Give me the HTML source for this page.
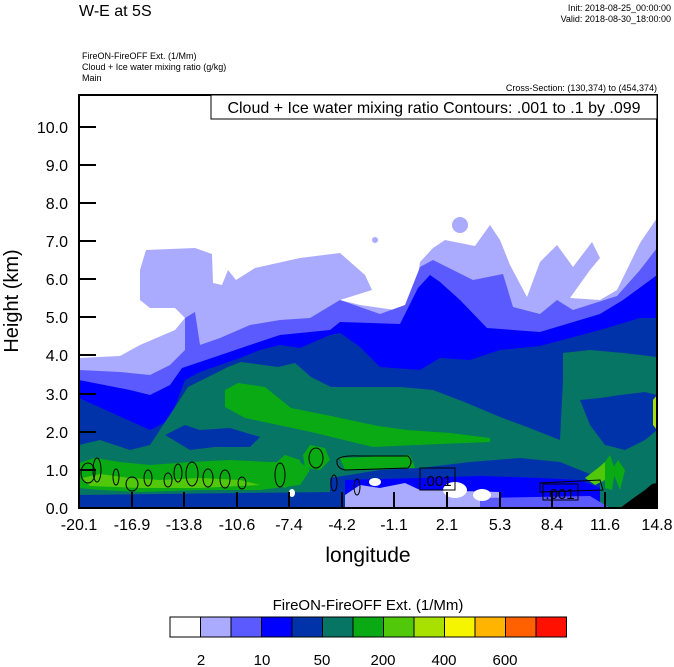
<!DOCTYPE html>
<html><head><meta charset="utf-8">
<style>
html,body{margin:0;padding:0;background:#fff;}
svg{display:block;font-family:"Liberation Sans",Arial,sans-serif;}
</style></head>
<body>
<svg width="674" height="667" viewBox="0 0 674 667" xmlns="http://www.w3.org/2000/svg">
<rect width="674" height="667" fill="#fff"/>
<text x="79" y="16" font-size="16">W-E at 5S</text>
<text x="671" y="11" font-size="9" text-anchor="end">Init: 2018-08-25_00:00:00</text>
<text x="671" y="22" font-size="9" text-anchor="end">Valid: 2018-08-30_18:00:00</text>
<text x="82" y="59" font-size="9">FireON-FireOFF Ext.   (1/Mm)</text>
<text x="82" y="70" font-size="9">Cloud + Ice water mixing ratio   (g/kg)</text>
<text x="82" y="81" font-size="9">Main</text>
<text x="657" y="91" font-size="9" text-anchor="end">Cross-Section: (130,374) to (454,374)</text>

<defs><clipPath id="pc"><rect x="79" y="95" width="578" height="413"/></clipPath></defs>
<g clip-path="url(#pc)">
<rect x="79" y="95" width="578" height="413" fill="#fff"/>
<path fill="#aaaaff" d="M79,358 L120,356 L140,345 L175,330 L185,318 L175,308 L150,308 L140,300 L140,270 L146,250 L195,248 L212,254 L213,283 L222,285 L228,270 L236,280 L255,268 L300,258 L340,253 L365,275 L372,290 L340,300 L360,305 L395,310 L415,300 L420,262 L433,248 L445,240 L475,246 L490,225 L500,240 L510,265 L527,297 L540,262 L557,245 L573,267 L592,242 L600,258 L590,270 L570,298 L600,300 L617,290 L640,243 L657,218 L657,508 L79,508 Z"/>
<circle cx="460" cy="225" r="8" fill="#aaaaff"/>
<circle cx="375" cy="240" r="3" fill="#aaaaff"/>
<path fill="#5a5aff" d="M79,370 L120,372 L150,375 L170,365 L185,350 L185,318 L195,312 L200,345 L220,338 L250,325 L280,320 L310,318 L340,300 L380,314 L405,305 L420,267 L433,260 L473,280 L503,274 L513,307 L540,314 L557,300 L573,310 L617,296 L640,270 L657,248 L657,508 L79,508 Z"/>
<path fill="#0000ff" d="M79,380 L130,390 L150,395 L170,385 L182,368 L200,362 L250,345 L280,335 L330,330 L340,322 L400,324 L418,288 L430,275 L440,282 L460,300 L487,328 L540,332 L600,314 L623,300 L653,278 L657,275 L657,508 L79,508 Z"/>
<path fill="#0033aa" d="M79,398 L150,430 L170,420 L185,380 L200,372 L240,358 L260,350 L280,345 L300,348 L330,335 L340,333 L360,347 L380,367 L420,370 L440,358 L470,360 L500,350 L540,346 L600,330 L640,318 L657,318 L657,508 L79,508 Z"/>
<path fill="#067563" d="M79,445 L100,440 L130,450 L150,445 L175,407 L188,387 L228,367 L241,362 L278,367 L295,363 L311,377 L331,387 L355,387 L378,387 L400,387 L433,390 L467,403 L500,417 L527,427 L560,440 L563,380 L563,353 L590,350 L623,353 L657,357 L657,508 L79,508 Z"/>
<path fill="#0033aa" d="M580,400 L600,398 L620,395 L645,392 L657,395 L657,430 L645,440 L625,450 L605,445 L590,425 Z"/>
<path fill="#0033aa" d="M165,435 L185,425 L200,430 L230,428 L260,437 L250,447 L215,447 L190,450 Z"/>
<path fill="#0033aa" d="M330,478 L380,470 L420,468 L470,462 L520,458 L560,462 L580,470 L600,478 L600,508 L330,508 Z"/>
<path fill="#0033aa" d="M79,495 L330,492 L330,508 L79,508 Z"/>
<path fill="#0aaa14" d="M225,390 L238,383 L265,387 L291,408 L331,416 L378,426 L407,430 L450,433 L490,438 L490,442 L440,444 L373,447 L311,432 L245,418 L225,407 Z"/>
<path fill="#0aaa14" d="M79,463 L95,458 L120,462 L150,465 L190,462 L230,460 L270,462 L300,462 L310,470 L300,485 L260,490 L200,490 L140,492 L100,490 L79,488 Z"/>
<path fill="#52c80a" d="M82,478 L100,474 L130,478 L160,480 L200,478 L240,480 L260,485 L200,488 L140,488 L90,486 Z"/>
<path fill="#0aaa14" d="M270,468 L285,455 L300,460 L300,480 L285,488 L270,482 Z"/>
<path fill="#0aaa14" d="M303,455 L310,445 L325,448 L330,460 L320,470 L305,468 Z"/>
<path fill="#0aaa14" d="M340,458 L410,455 L415,468 L345,470 Z"/>
<path fill="#0000ff" d="M345,480 L420,478 L480,476 L540,478 L580,480 L600,488 L600,508 L345,508 Z"/>
<path fill="#aaaaff" d="M345,495 L360,485 L380,488 L405,483 L420,490 L500,492 L500,508 L345,508 Z"/>
<path fill="#5a5aff" d="M480,498 L590,496 L610,508 L480,508 Z"/>
<ellipse cx="455" cy="490" rx="12" ry="8" fill="#fff"/>
<ellipse cx="482" cy="495" rx="9" ry="6" fill="#fff"/>
<ellipse cx="375" cy="482" rx="6" ry="4" fill="#fff"/>
<ellipse cx="292" cy="493" rx="3" ry="4" fill="#fff"/>
<path fill="#52c80a" d="M585,478 L598,468 L605,462 L605,480 L595,485 Z"/>
<path fill="#0aaa14" d="M605,462 L610,455 L615,470 L612,490 L605,488 Z"/>
<path fill="#0aaa14" d="M612,470 L618,460 L625,470 L620,490 Z"/>
<path fill="#a8e000" d="M653,400 L657,395 L657,430 L653,425 Z"/>
<path fill="#000" d="M620,508 L635,497 L645,490 L652,484 L657,483 L657,508 Z"/>
<g fill="none" stroke="#000" stroke-width="1">
<ellipse cx="88" cy="473" rx="7" ry="10"/><ellipse cx="97" cy="470" rx="4" ry="12"/>
<ellipse cx="116" cy="477" rx="3" ry="8"/><ellipse cx="132" cy="484" rx="6" ry="7"/>
<ellipse cx="148" cy="478" rx="4" ry="8"/><ellipse cx="168" cy="480" rx="4" ry="7"/>
<ellipse cx="178" cy="473" rx="4" ry="9"/><ellipse cx="192" cy="474" rx="6" ry="12"/>
<ellipse cx="208" cy="478" rx="5" ry="9"/><ellipse cx="225" cy="479" rx="5" ry="9"/>
<ellipse cx="242" cy="483" rx="4" ry="6"/><ellipse cx="280" cy="475" rx="5" ry="12"/>
<ellipse cx="316" cy="458" rx="7" ry="10"/>
<path d="M337,460 Q340,455 360,456 L408,456 Q414,462 408,468 L345,470 Q336,468 337,460 Z"/>
<ellipse cx="334" cy="483" rx="3" ry="8"/><ellipse cx="357" cy="487" rx="3" ry="8"/>
<path d="M540,483 L600,480 L603,490 L540,492 Z"/>
</g>
<rect x="420" y="468" width="35" height="22" fill="none" stroke="#000"/>
<text x="437" y="486" font-size="15" text-anchor="middle">.001</text>
<rect x="543" y="484" width="35" height="16" fill="none" stroke="#000"/>
<text x="560" y="499" font-size="15" text-anchor="middle">.001</text>
</g>
<rect x="79" y="95" width="578" height="413" fill="none" stroke="#000" stroke-width="2"/>
<rect x="211" y="95" width="446" height="24" fill="#fff" stroke="#000" stroke-width="1"/>
<text x="434" y="113" font-size="16" text-anchor="middle">Cloud + Ice water mixing ratio Contours: .001 to .1 by .099</text>
<g stroke="#000" stroke-width="2">
<line x1="79" y1="508" x2="96" y2="508"/><line x1="79" y1="470" x2="96" y2="470"/>
<line x1="79" y1="432" x2="96" y2="432"/><line x1="79" y1="394" x2="96" y2="394"/>
<line x1="79" y1="355" x2="96" y2="355"/><line x1="79" y1="317" x2="96" y2="317"/>
<line x1="79" y1="279" x2="96" y2="279"/><line x1="79" y1="241" x2="96" y2="241"/>
<line x1="79" y1="203" x2="96" y2="203"/><line x1="79" y1="165" x2="96" y2="165"/>
<line x1="79" y1="127" x2="96" y2="127"/>
<line x1="132" y1="508" x2="132" y2="492"/><line x1="184" y1="508" x2="184" y2="492"/>
<line x1="237" y1="508" x2="237" y2="492"/><line x1="289" y1="508" x2="289" y2="492"/>
<line x1="342" y1="508" x2="342" y2="492"/><line x1="394" y1="508" x2="394" y2="492"/>
<line x1="447" y1="508" x2="447" y2="492"/><line x1="500" y1="508" x2="500" y2="492"/>
<line x1="552" y1="508" x2="552" y2="492"/><line x1="605" y1="508" x2="605" y2="492"/>
</g>
<g font-size="16" text-anchor="end">
<text x="68" y="514">0.0</text><text x="68" y="476">1.0</text><text x="68" y="438">2.0</text>
<text x="68" y="400">3.0</text><text x="68" y="361">4.0</text><text x="68" y="323">5.0</text>
<text x="68" y="285">6.0</text><text x="68" y="247">7.0</text><text x="68" y="209">8.0</text>
<text x="68" y="171">9.0</text><text x="68" y="133">10.0</text>
</g>
<g font-size="16" text-anchor="middle">
<text x="79" y="530">-20.1</text><text x="132" y="530">-16.9</text><text x="184" y="530">-13.8</text>
<text x="237" y="530">-10.6</text><text x="289" y="530">-7.4</text><text x="342" y="530">-4.2</text>
<text x="394" y="530">-1.1</text><text x="447" y="530">2.1</text><text x="500" y="530">5.3</text>
<text x="552" y="530">8.4</text><text x="605" y="530">11.6</text><text x="657" y="530">14.8</text>
</g>
<text x="368" y="562" font-size="21" text-anchor="middle">longitude</text>
<text transform="translate(18,301) rotate(-90)" font-size="20" text-anchor="middle">Height (km)</text>
<text x="368" y="610" font-size="15" text-anchor="middle">FireON-FireOFF Ext.  (1/Mm)</text>
<g stroke="#000" stroke-width="1">
<rect x="170" y="617" width="30.5" height="20" fill="#fefefe"/>
<rect x="200.5" y="617" width="30.5" height="20" fill="#aaaaff"/>
<rect x="231" y="617" width="30.5" height="20" fill="#5a5aff"/>
<rect x="261.5" y="617" width="30.5" height="20" fill="#0000ff"/>
<rect x="292" y="617" width="30.5" height="20" fill="#0033aa"/>
<rect x="322.5" y="617" width="30.5" height="20" fill="#067563"/>
<rect x="353" y="617" width="30.5" height="20" fill="#0aaa14"/>
<rect x="383.5" y="617" width="30.5" height="20" fill="#52c80a"/>
<rect x="414" y="617" width="30.5" height="20" fill="#a8e000"/>
<rect x="444.5" y="617" width="30.5" height="20" fill="#f5f500"/>
<rect x="475" y="617" width="30.5" height="20" fill="#ffb400"/>
<rect x="505.5" y="617" width="30.5" height="20" fill="#ff6000"/>
<rect x="536" y="617" width="30.5" height="20" fill="#ff1000"/>
</g>
<g font-size="15" text-anchor="middle">
<text x="201" y="665">2</text><text x="262" y="665">10</text><text x="322" y="665">50</text>
<text x="383" y="665">200</text><text x="444" y="665">400</text><text x="505" y="665">600</text>
</g>
</svg>
</body></html>
